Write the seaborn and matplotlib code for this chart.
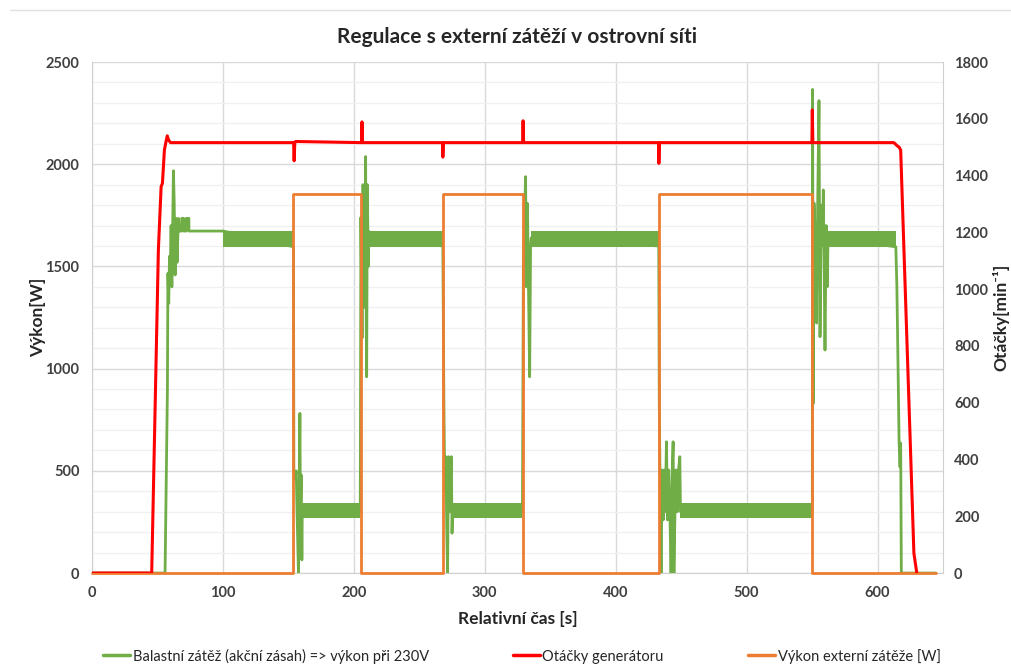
import matplotlib
matplotlib.use('Agg')
import matplotlib.pyplot as plt
import seaborn as sns
from matplotlib.lines import Line2D
from matplotlib.ticker import MultipleLocator

sns.set_style('white')
plt.rcParams['font.family'] = ['Lato', 'DejaVu Sans']

GREEN = '#70AD47'
RED = '#FF0000'
ORANGE = '#ED7D31'

# --- data ---
# external load (W)
ext_t = [0, 153.9, 153.9, 205.4, 205.4, 268.0, 268.0, 329.2, 329.2, 432.9, 432.9, 550.2, 550.2, 644.5]
ext_w = [0, 0, 1855, 1855, 0, 0, 1855, 1855, 0, 0, 1855, 1855, 0, 0]

# generator speed (rpm)
rpm_t = [0, 45.6, 50.7, 52.8, 53.8, 55.3, 56.5, 57.5, 58.5, 60, 154.0, 154.4, 154.9, 155.5,
         205.9, 206.2, 206.6, 267.7, 268.0, 268.5, 328.9, 329.3, 329.7, 432.7, 433.0, 433.5,
         549.9, 550.2, 550.6, 612.5, 615.0, 616.5, 617.7, 627.8, 630.0]
rpm_v = [0, 0, 1138, 1361, 1373, 1490, 1519, 1540, 1525, 1516, 1516, 1452, 1516, 1520,
         1516, 1589, 1516, 1516, 1465, 1516, 1516, 1593, 1516, 1516, 1443, 1516,
         1516, 1631, 1516, 1516, 1505, 1500, 1490, 70, 0]

# ballast load (W) - transients
bal_t = [0, 55.8, 57.6, 58.0, 58.6, 59.2, 59.8, 60.4, 61.0, 62.2, 62.8, 63.5, 64.2, 65.0, 66.0,
         66.7, 68.5, 68.5, 70.0, 70.0, 72.0, 72.0, 74.0, 74.0, 76.1, 76.1, 100.4,
         153.9, 154.2, 155.0, 156.0, 156.6, 157.7, 158.3, 158.8, 159.2, 159.8, 160.3, 160.6,
         204.9, 205.4, 206.3, 207.0, 208.0, 209.0, 209.5, 209.8, 210.3, 211.0, 211.6, 212.5,
         268.0, 268.8, 269.5, 270.3, 271.0, 271.6, 272.3, 273.0, 273.8, 274.5, 275.0, 275.5,
         328.8, 329.5, 330.2, 331.2, 331.8, 332.6, 333.4, 334.3, 335.0, 335.5,
         432.9, 433.3, 434.0, 434.7, 435.5, 436.3, 437.0, 437.8, 438.8, 439.6, 440.5, 441.4,
         442.3, 443.2, 443.9, 444.5, 445.2, 446.0, 447.0, 448.0, 449.0, 449.5,
         550.2, 550.4, 550.9, 551.5, 552.5, 553.5, 554.3, 555.3, 556.1, 557.0, 558.0, 558.6,
         559.9, 560.8, 561.7, 562.2, 614.0, 614.8, 615.8, 616.5, 617.2, 617.7, 618.2, 644.5]
bal_w = [0, 0, 895, 1466, 1320, 1550, 1466, 1700, 1400, 1968, 1810, 1458, 1735, 1520, 1735,
         1673, 1673, 1735, 1735, 1673, 1673, 1735, 1735, 1673, 1673, 1673, 1673,
         1596, 500, 460, 500, 300, 0, 450, 781, 300, 480, 64, 300,
         300, 1740, 1150, 1900, 1300, 2037, 1200, 960, 1900, 1500, 1670, 1640,
         1600, 830, 400, 569, 200, 0, 569, 300, 450, 569, 195, 300,
         300, 1500, 1700, 1939, 1400, 1808, 1401, 960, 1600, 1640,
         1600, 830, 400, 0, 504, 260, 504, 300, 642, 260, 504, 300,
         0, 504, 642, 0, 259, 504, 300, 504, 569, 300,
         300, 2366, 830, 1810, 1640, 1223, 1800, 2311, 1156, 1800, 1640, 1874,
         1091, 1700, 1401, 1640, 1596, 1400, 960, 636, 519, 636, 0, 0]

# ballast load - fast oscillation bands (start s, end s, low W, high W)
band_start = [100.4, 160.6, 212.5, 275.5, 335.5, 449.5, 551.5]
band_end = [153.9, 204.9, 268.0, 328.8, 432.9, 550.2, 614.0]
band_low = [1596, 268, 1596, 268, 1596, 268, 1596]
band_high = [1673, 341, 1673, 341, 1673, 341, 1673]

fig = plt.figure(figsize=(10.11, 6.66), dpi=100)
ax = fig.add_axes([0.091, 0.1396, 0.8417, 0.7673])
ax2 = ax.twinx()

for s, e, lo, hi in zip(band_start, band_end, band_low, band_high):
    ax.fill_between([s, e], lo, hi, color=GREEN, lw=0, zorder=2)

sns.lineplot(x=bal_t, y=bal_w, ax=ax, color=GREEN, lw=2, sort=False, estimator=None,
             legend=False, zorder=2)
sns.lineplot(x=ext_t, y=ext_w, ax=ax, color=ORANGE, lw=2, sort=False, estimator=None,
             legend=False, zorder=3)
ax.lines[-1].set_clip_on(False)
sns.lineplot(x=rpm_t, y=rpm_v, ax=ax2, color=RED, lw=2.2, sort=False, estimator=None,
             legend=False)

ax.set_xlim(0, 650)
ax.set_ylim(0, 2500)
ax2.set_ylim(0, 1800)
ax.set_xticks(range(0, 601, 100))
ax.yaxis.set_major_locator(MultipleLocator(500))
ax.yaxis.set_minor_locator(MultipleLocator(100))
ax2.yaxis.set_major_locator(MultipleLocator(200))

ax.grid(which='major', color='#d9d9d9', lw=1)
ax.grid(which='minor', axis='y', color='#f0f0f0', lw=1)
ax.set_axisbelow(True)

for a in (ax, ax2):
    a.tick_params(which='both', length=0, labelsize=10.5, labelcolor='#404040', pad=9)
    for lab in a.get_xticklabels() + a.get_yticklabels():
        lab.set_fontweight('bold')
    for sp in a.spines.values():
        sp.set_visible(False)
ax.spines['left'].set_visible(True)
ax.spines['left'].set_color('#d0d0d0')
ax2.spines['right'].set_visible(True)
ax2.spines['right'].set_color('#d0d0d0')
ax.spines['bottom'].set_visible(True)
ax.spines['bottom'].set_color('#d0d0d0')
ax2.tick_params(axis='y', pad=8)

ax.set_xlabel('Relativní čas [s]', fontsize=12.5, fontweight='bold', labelpad=8)
ymid = 1 - 317.5 / 666
fig.text(38 / 1011, ymid, 'Výkon[W]', rotation=90, ha='center', va='center',
         fontsize=12.5, fontweight='bold')
fig.text(1001 / 1011, ymid, 'Otáčky[min⁻¹]', rotation=90, ha='center', va='center',
         fontsize=12.5, fontweight='bold')

fig.text(517 / 1011, 1 - 37 / 666, 'Regulace s externí zátěží v ostrovní síti',
         ha='center', va='center', fontsize=15, fontweight='bold')
fig.add_artist(Line2D([0.01, 1.0], [1 - 10 / 666, 1 - 10 / 666], color='#e0e0e0', lw=1))

handles = [Line2D([], [], color=GREEN, lw=2.5), Line2D([], [], color=RED, lw=2.5),
           Line2D([], [], color=ORANGE, lw=2.5)]
labels = ['Balastní zátěž (akční zásah) => výkon při 230V', 'Otáčky generátoru',
          'Výkon externí zátěže [W]']
fig.legend(handles, labels, ncol=3, loc='center', bbox_to_anchor=(522 / 1011, 1 - 656 / 666),
           frameon=False, fontsize=10.5, handlelength=1.8, handletextpad=0.2,
           columnspacing=5.8)

fig.savefig('out.png', dpi=100)
